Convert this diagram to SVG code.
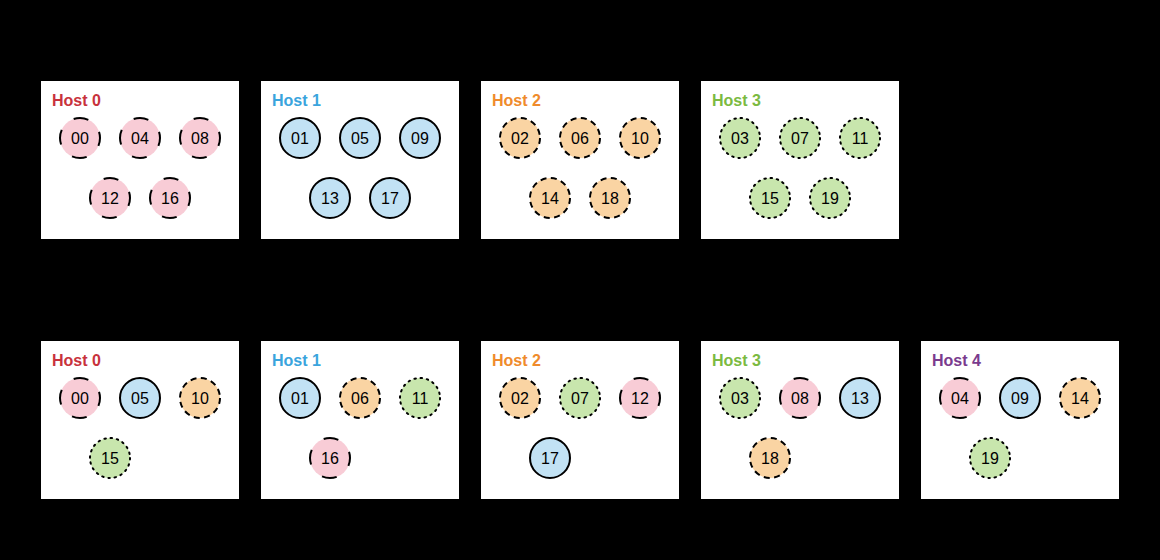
<svg xmlns="http://www.w3.org/2000/svg" width="1160" height="560" viewBox="0 0 1160 560">
<style>
.box{fill:#fff}
.t{font-family:"Liberation Sans",Arial,sans-serif;font-weight:bold;font-size:16px}
.n{font-family:"Liberation Sans",Arial,sans-serif;font-size:16px;text-anchor:middle;fill:#000}
.p{fill:#f8ccd6;stroke:#000;stroke-width:2;stroke-dasharray:15 16.4;stroke-dashoffset:7}
.b{fill:#c2e2f4;stroke:#000;stroke-width:2}
.o{fill:#fad4a3;stroke:#000;stroke-width:2;stroke-dasharray:6 4.5}
.g{fill:#c8e6ad;stroke:#000;stroke-width:2;stroke-dasharray:1.5 4.78;stroke-linecap:round}
</style>
<rect width="1160" height="560" fill="#000"/>
<defs>
<g id="dummy"/>
</defs>
<!-- top row -->
<g id="top-host0"><rect class="box" x="41" y="81" width="198" height="158"/><text class="t" x="52" y="106" fill="#c8323c">Host 0</text>
<circle class="p" cx="80" cy="138" r="20"/><text class="n" x="80" y="144">00</text>
<circle class="p" cx="140" cy="138" r="20"/><text class="n" x="140" y="144">04</text>
<circle class="p" cx="200" cy="138" r="20"/><text class="n" x="200" y="144">08</text>
<circle class="p" cx="110" cy="198" r="20"/><text class="n" x="110" y="204">12</text>
<circle class="p" cx="170" cy="198" r="20"/><text class="n" x="170" y="204">16</text></g>
<g id="top-host1"><rect class="box" x="261" y="81" width="198" height="158"/><text class="t" x="272" y="106" fill="#3aa4dd">Host 1</text>
<circle class="b" cx="300" cy="138" r="20"/><text class="n" x="300" y="144">01</text>
<circle class="b" cx="360" cy="138" r="20"/><text class="n" x="360" y="144">05</text>
<circle class="b" cx="420" cy="138" r="20"/><text class="n" x="420" y="144">09</text>
<circle class="b" cx="330" cy="198" r="20"/><text class="n" x="330" y="204">13</text>
<circle class="b" cx="390" cy="198" r="20"/><text class="n" x="390" y="204">17</text></g>
<g id="top-host2"><rect class="box" x="481" y="81" width="198" height="158"/><text class="t" x="492" y="106" fill="#ef8b2c">Host 2</text>
<circle class="o" cx="520" cy="138" r="20"/><text class="n" x="520" y="144">02</text>
<circle class="o" cx="580" cy="138" r="20"/><text class="n" x="580" y="144">06</text>
<circle class="o" cx="640" cy="138" r="20"/><text class="n" x="640" y="144">10</text>
<circle class="o" cx="550" cy="198" r="20"/><text class="n" x="550" y="204">14</text>
<circle class="o" cx="610" cy="198" r="20"/><text class="n" x="610" y="204">18</text></g>
<g id="top-host3"><rect class="box" x="701" y="81" width="198" height="158"/><text class="t" x="712" y="106" fill="#7bba41">Host 3</text>
<circle class="g" cx="740" cy="138" r="20"/><text class="n" x="740" y="144">03</text>
<circle class="g" cx="800" cy="138" r="20"/><text class="n" x="800" y="144">07</text>
<circle class="g" cx="860" cy="138" r="20"/><text class="n" x="860" y="144">11</text>
<circle class="g" cx="770" cy="198" r="20"/><text class="n" x="770" y="204">15</text>
<circle class="g" cx="830" cy="198" r="20"/><text class="n" x="830" y="204">19</text></g>
<!-- bottom row -->
<g id="bot-host0"><rect class="box" x="41" y="341" width="198" height="158"/><text class="t" x="52" y="366" fill="#c8323c">Host 0</text>
<circle class="p" cx="80" cy="398" r="20"/><text class="n" x="80" y="404">00</text>
<circle class="b" cx="140" cy="398" r="20"/><text class="n" x="140" y="404">05</text>
<circle class="o" cx="200" cy="398" r="20"/><text class="n" x="200" y="404">10</text>
<circle class="g" cx="110" cy="458" r="20"/><text class="n" x="110" y="464">15</text></g>
<g id="bot-host1"><rect class="box" x="261" y="341" width="198" height="158"/><text class="t" x="272" y="366" fill="#3aa4dd">Host 1</text>
<circle class="b" cx="300" cy="398" r="20"/><text class="n" x="300" y="404">01</text>
<circle class="o" cx="360" cy="398" r="20"/><text class="n" x="360" y="404">06</text>
<circle class="g" cx="420" cy="398" r="20"/><text class="n" x="420" y="404">11</text>
<circle class="p" cx="330" cy="458" r="20"/><text class="n" x="330" y="464">16</text></g>
<g id="bot-host2"><rect class="box" x="481" y="341" width="198" height="158"/><text class="t" x="492" y="366" fill="#ef8b2c">Host 2</text>
<circle class="o" cx="520" cy="398" r="20"/><text class="n" x="520" y="404">02</text>
<circle class="g" cx="580" cy="398" r="20"/><text class="n" x="580" y="404">07</text>
<circle class="p" cx="640" cy="398" r="20"/><text class="n" x="640" y="404">12</text>
<circle class="b" cx="550" cy="458" r="20"/><text class="n" x="550" y="464">17</text></g>
<g id="bot-host3"><rect class="box" x="701" y="341" width="198" height="158"/><text class="t" x="712" y="366" fill="#7bba41">Host 3</text>
<circle class="g" cx="740" cy="398" r="20"/><text class="n" x="740" y="404">03</text>
<circle class="p" cx="800" cy="398" r="20"/><text class="n" x="800" y="404">08</text>
<circle class="b" cx="860" cy="398" r="20"/><text class="n" x="860" y="404">13</text>
<circle class="o" cx="770" cy="458" r="20"/><text class="n" x="770" y="464">18</text></g>
<g id="bot-host4"><rect class="box" x="921" y="341" width="198" height="158"/><text class="t" x="932" y="366" fill="#7a3b8e">Host 4</text>
<circle class="p" cx="960" cy="398" r="20"/><text class="n" x="960" y="404">04</text>
<circle class="b" cx="1020" cy="398" r="20"/><text class="n" x="1020" y="404">09</text>
<circle class="o" cx="1080" cy="398" r="20"/><text class="n" x="1080" y="404">14</text>
<circle class="g" cx="990" cy="458" r="20"/><text class="n" x="990" y="464">19</text></g>
<g id="connectors"/>
</svg>
